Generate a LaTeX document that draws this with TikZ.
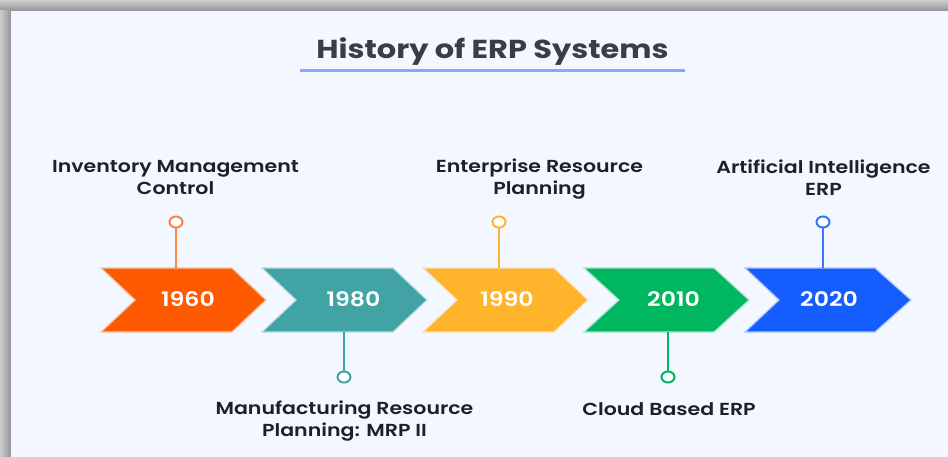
\documentclass[tikz,border=0pt]{standalone}
\usepackage{fontspec}
\setmainfont{Poppins}
\newfontfamily\widefont[FakeStretch=1.18]{Poppins SemiBold}
\newfontfamily\headfont[FakeStretch=1.17]{Poppins}
\usetikzlibrary{shadings}
\definecolor{panel}{HTML}{F3F7FF}
\definecolor{ink}{HTML}{1E2026}
\definecolor{titleink}{HTML}{3A3D44}
\definecolor{cOrange}{HTML}{FF5A00}
\definecolor{cTeal}{HTML}{42A3A5}
\definecolor{cAmber}{HTML}{FFB42C}
\definecolor{cGreen}{HTML}{00B65E}
\definecolor{cBlue}{HTML}{165DFF}
\tikzset{
  x=1pt,y=-1pt,
  chevron/.style={line width=1.2pt,line join=miter},
  year/.style={text=white,font=\fontsize{20}{22}\widefont,inner sep=0pt,anchor=base},
  lbl/.style={text=ink,font=\fontsize{17.4}{22}\widefont,align=center,inner sep=0pt},
  pin/.style={circle,draw,fill=white,line width=2pt,minimum width=13pt,inner sep=0pt,yscale=0.85},
  stem/.style={line width=2pt},
}
\begin{document}
\begin{tikzpicture}
\useasboundingbox (0,0) rectangle (948,457);
\fill[black!22] (0,0) rectangle (948,457);
\shade[top color=black!20,bottom color=black!42] (0,0) rectangle (948,11);
\shade[left color=black!20,right color=black!42] (0,11) rectangle (11,457);
\fill[panel] (11,11) rectangle (948,457);
% title
\node[text=titleink,font=\fontsize{26}{30}\headfont\bfseries,inner sep=0pt,anchor=base] (title) at (492.5,58.5) {History of ERP Systems};
\coordinate (ruleL) at (300,71);
\coordinate (ruleR) at (685,71);
\draw[line width=3pt,color=cBlue!50!panel] (ruleL) -- (ruleR);
% chevrons
\filldraw[chevron,fill=cOrange,draw=cOrange!30!panel] (101,268) -- (232,268) -- (266,300) -- (232,332) -- (101,332) -- (135,300) -- cycle;
\filldraw[chevron,fill=cTeal,draw=cTeal!30!panel] (262,268) -- (393,268) -- (427,300) -- (393,332) -- (262,332) -- (296,300) -- cycle;
\filldraw[chevron,fill=cAmber,draw=cAmber!30!panel] (423,268) -- (554,268) -- (588,300) -- (554,332) -- (423,332) -- (457,300) -- cycle;
\filldraw[chevron,fill=cGreen,draw=cGreen!30!panel] (584,268) -- (714,268) -- (749,300) -- (714,332) -- (584,332) -- (619,300) -- cycle;
\filldraw[chevron,fill=cBlue,draw=cBlue!30!panel] (745,268) -- (875,268) -- (911,300) -- (875,332) -- (745,332) -- (779,300) -- cycle;
% years
\node[year] (y1960) at (188,306) {1960};
\node[year] (y1980) at (353.5,306) {1980};
\node[year] (y1990) at (507,306) {1990};
\node[year] (y2010) at (673.5,306) {2010};
\node[year] (y2020) at (829,306) {2020};
% anchor points on chevrons
\coordinate (a1) at (176,268);
\coordinate (a2) at (344,332);
\coordinate (a3) at (499,268);
\coordinate (a4) at (668,332);
\coordinate (a5) at (823,268);
% pins
\node[pin,draw=cOrange!75!white] (p1) at (176,222) {};
\node[pin,draw=cTeal] (p2) at (344,377) {};
\node[pin,draw=cAmber] (p3) at (499,222) {};
\node[pin,draw=cGreen] (p4) at (668,377) {};
\node[pin,draw=cBlue!85!white] (p5) at (823,222) {};
\draw[stem,cOrange!75!white] (p1) -- (a1);
\draw[stem,cTeal] (p2) -- (a2);
\draw[stem,cAmber] (p3) -- (a3);
\draw[stem,cGreen] (p4) -- (a4);
\draw[stem,cBlue!85!white] (p5) -- (a5);
% labels
\node[lbl] (l1) at (175.5,178) {Inventory Management\\Control};
\node[lbl] (l2) at (344.5,421.5) {Manufacturing Resource\\Planning: MRP II};
\node[lbl] (l3) at (539.5,179.5) {Enterprise Resource\\Planning};
\node[lbl] (l4) at (669,409.5) {Cloud Based ERP};
\node[lbl] (l5) at (823.5,178) {Artificial Intelligence\\ERP};
\end{tikzpicture}
\end{document}
